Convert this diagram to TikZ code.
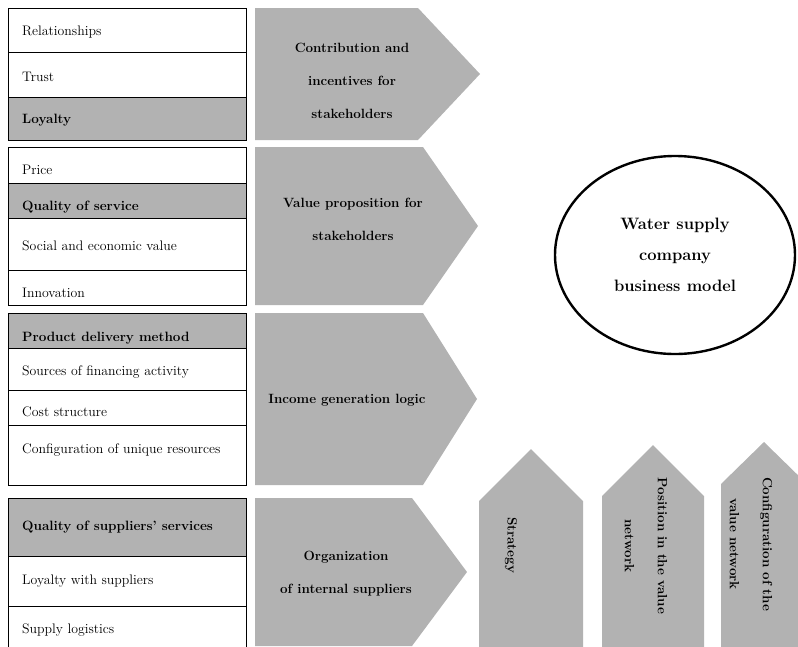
\documentclass[tikz,border=0pt]{standalone}
\usepackage{tikz}
\usetikzlibrary{shapes.geometric, positioning}
\definecolor{panelgray}{RGB}{178,178,178}

\begin{document}
\begin{tikzpicture}[x=1pt, y=-1pt,
    row/.style={draw=black, line width=0.7pt, fill=white},
    keyrow/.style={row, fill=panelgray},
    rowtext/.style={anchor=west, inner sep=0pt, font=\fontsize{13.8}{16}\selectfont},
    keytext/.style={anchor=west, inner sep=0pt, font=\fontsize{13.5}{16}\selectfont\bfseries},
    block/.style={fill=panelgray},
    blocktext/.style={align=center, inner sep=0pt, font=\fontsize{13.4}{33}\selectfont\bfseries},
    core/.style={ellipse, draw=black, line width=2.4pt, minimum width=240, minimum height=198, align=center, font=\fontsize{16.5}{31}\selectfont\bfseries}
]
\clip (0,0) rectangle (798,646);

% Group 1: stakeholders
\draw[row] (8,8) rectangle (246,52);
\draw[row] (8,52) rectangle (246,97);
\draw[keyrow] (8,97) rectangle (246,140);
\node[rowtext] (relationships) at (22,32) {Relationships};
\node[rowtext] (trust) at (22,77) {Trust};
\node[keytext] (loyalty) at (22,120) {Loyalty};

% Group 2: value proposition
\draw[row] (8,147) rectangle (246,183);
\draw[keyrow] (8,183) rectangle (246,218);
\draw[row] (8,218) rectangle (246,270);
\draw[row] (8,270) rectangle (246,305);
\node[rowtext] (price) at (22,170) {Price};
\node[keytext] (quality) at (22,207) {Quality of service};
\node[rowtext] (social) at (22,246) {Social and economic value};
\node[rowtext] (innovation) at (22,293) {Innovation};

% Group 3: income
\draw[keyrow] (8,313) rectangle (246,348);
\draw[row] (8,348) rectangle (246,390);
\draw[row] (8,390) rectangle (246,425);
\draw[row] (8,425) rectangle (246,485);
\node[keytext] (delivery) at (22,338) {Product delivery method};
\node[rowtext] (financing) at (22,372) {Sources of financing activity};
\node[rowtext] (cost) at (22,412) {Cost structure};
\node[rowtext] (resources) at (22,450) {Configuration of unique resources};

% Group 4: suppliers
\draw[keyrow] (8,498) rectangle (246,556);
\draw[row] (8,556) rectangle (246,606);
\draw[row] (8,606) rectangle (246,660);
\node[keytext] (suppq) at (22,527) {Quality of suppliers’ services};
\node[rowtext] (supploy) at (22,581) {Loyalty with suppliers};
\node[rowtext] (logistics) at (22,630) {Supply logistics};

% Right-pointing blocks
\fill[block] (255,8) -- (418,8) -- (480,74) -- (418,140) -- (255,140) -- cycle;
\fill[block] (255,147) -- (423,147) -- (478,226) -- (423,305) -- (255,305) -- cycle;
\fill[block] (255,313) -- (423,313) -- (477,399) -- (423,485) -- (255,485) -- cycle;
\fill[block] (255,498) -- (412,498) -- (467,572) -- (412,646) -- (255,646) -- cycle;
\node[blocktext] (contribution) at (352,81) {Contribution and\\incentives for\\stakeholders};
\node[blocktext] (proposition) at (353,219) {Value proposition for\\stakeholders};
\node[blocktext] (income) at (347,400) {Income generation logic};
\node[blocktext] (organization) at (346,574) {Organization\\of internal suppliers};

% Upward blocks
\fill[block] (479,660) -- (479,501) -- (531,449) -- (583,501) -- (583,660) -- cycle;
\fill[block] (602,660) -- (602,496) -- (653,445) -- (704,496) -- (704,660) -- cycle;
\fill[block] (721,660) -- (721,484) -- (764,442) -- (807,484) -- (807,660) -- cycle;
\node[blocktext, rotate=-90] (strategy) at (511,545) {Strategy};
\node[blocktext, rotate=-90] (position) at (646,546) {Position in the value\\network};
\node[blocktext, rotate=-90] (configuration) at (751,544) {Configuration of the\\value network};

% Business model
\node[core] (model) at (675,255) {Water supply\\company\\business model};
\end{tikzpicture}
\end{document}
